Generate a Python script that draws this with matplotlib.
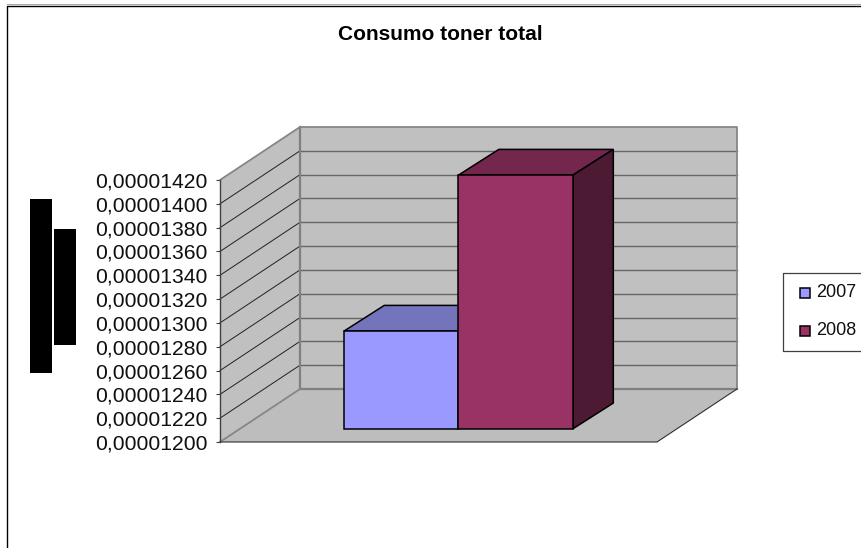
#!/usr/bin/python
import matplotlib
matplotlib.use('Agg')
import matplotlib.pyplot as plt
from matplotlib.transforms import Affine2D

plt.rcParams['font.family'] = ['Liberation Sans', 'DejaVu Sans']

title = "Consumo toner total"
series = ["2007", "2008"]
values = [0.00001282, 0.00001413]
y_ticks = [0.00001200, 0.00001220, 0.00001240, 0.00001260, 0.00001280, 0.00001300,
           0.00001320, 0.00001340, 0.00001360, 0.00001380, 0.00001400, 0.00001420]
y_labels = ["0,00001200", "0,00001220", "0,00001240", "0,00001260", "0,00001280", "0,00001300",
            "0,00001320", "0,00001340", "0,00001360", "0,00001380", "0,00001400", "0,00001420"]
front_col = ["#9999FF", "#993366"]
top_col = ["#7474BD", "#73274C"]
side_col = ["#4D4D80", "#4D1A33"]

W = 862.0
H = 548.0
DX = 80.0
DY = 53.0

#==================================
def DrawFig():
  fig = plt.figure(figsize=(W / 100, H / 100), dpi=100)

  # front plane of the fake 3d box
  ax = fig.add_axes([220 / W, 1 - 442 / H, 437 / W, 262 / H])
  ax.set_xlim(0, 1)
  ax.set_ylim(y_ticks[0], y_ticks[-1])
  ax.patch.set_visible(False)
  for s in ['top', 'right', 'bottom']:
    ax.spines[s].set_visible(False)
  ax.spines['left'].set_color('#404040')
  ax.spines['left'].set_linewidth(1.0)
  ax.set_xticks([])
  ax.set_yticks(y_ticks)
  ax.set_yticklabels(y_labels, fontsize=15.2, color='#101010')
  ax.tick_params(axis='y', length=3, width=0.8, pad=5.7, color='#404040')

  def at(f):
    return ax.transData + Affine2D().translate(DX * f, DY * f)

  y0 = y_ticks[0]
  y1 = y_ticks[-1]
  x_off = DX / 437.0
  y_off = DY / 262.0 * (y1 - y0)

  # walls and floor
  ax.fill([0, 1, 1, 0], [y0, y0, y1, y1], transform=at(1), color='#C0C0C0', lw=0, clip_on=False, zorder=1)
  ax.fill([0, x_off, x_off, 0], [y0, y0 + y_off, y1 + y_off, y1], color='#C0C0C0', lw=0, clip_on=False, zorder=1)
  ax.fill([0, 1, 1 + x_off, x_off], [y0, y0, y0 + y_off, y0 + y_off], color='#BDBDBD', lw=0, clip_on=False, zorder=1)

  # grid on back wall and side wall
  for t in y_ticks[1:-1]:
    ax.plot([0, 1], [t, t], transform=at(1), color='#666666', lw=1.0, clip_on=False, zorder=2)
    ax.plot([0, x_off], [t, t + y_off], color='#202020', lw=0.7, clip_on=False, zorder=2)

  # wall edges
  ax.plot([0, 1, 1], [y1, y1, y0], transform=at(1), color='#868686', lw=1.3, clip_on=False, zorder=2)
  ax.plot([0, 0, 1], [y1, y0, y0], transform=at(1), color='#808080', lw=1.6, clip_on=False, zorder=2)
  ax.plot([0, x_off], [y1, y1 + y_off], color='#868686', lw=1.3, clip_on=False, zorder=2)
  ax.plot([0, x_off], [y0, y0 + y_off], color='#868686', lw=1.3, clip_on=False, zorder=2)
  ax.plot([0, 1, 1 + x_off], [y0, y0, y0 + y_off], color='#303030', lw=0.8, clip_on=False, zorder=2)

  # bars, grouped round the one category at x=0.5
  bw = 114.5 / 437.0
  bx = 40.3 / 437.0
  by = 25.7 / 262.0 * (y1 - y0)
  front = at(0.25)
  for i in range(len(values)):
    v = values[i]
    l = 0.5 + (i - 1) * bw
    r = l + bw
    z = 3 + i
    ax.fill([l, r, r + bx, l + bx], [v, v, v + by, v + by], transform=front,
            facecolor=top_col[i], edgecolor='black', lw=1.1, clip_on=False, zorder=z)
    ax.fill([r, r + bx, r + bx, r], [y0, y0 + by, v + by, v], transform=front,
            facecolor=side_col[i], edgecolor='black', lw=1.1, clip_on=False, zorder=z)
    ax.fill([l, r, r, l], [y0, y0, v, v], transform=front,
            facecolor=front_col[i], edgecolor='black', lw=1.1, clip_on=False, zorder=z)

  # overlay in picture pixels: frame, title, legend, blacked out axis title
  ov = fig.add_axes([0, 0, 1, 1], zorder=10)
  ov.set_xlim(0, W)
  ov.set_ylim(H, 0)
  ov.axis('off')
  ov.plot([7, W], [4.2, 4.2], color='#A8A8A8', lw=0.8)
  ov.plot([W, 7, 7], [5.5, 5.5, H], color='black', lw=1.0)
  ov.text(440.5, 34.5, title, fontsize=15, fontweight='bold', ha='center', va='center', color='black')
  ov.fill([30, 52, 52, 30], [199, 199, 373, 373], color='black', lw=0)
  ov.fill([54, 76, 76, 54], [229, 229, 345, 345], color='black', lw=0)
  ov.plot([W, 783, 783, W], [273, 273, 351, 351], color='#404040', lw=0.9)
  sw_y = [292.5, 330.5]
  for i in range(len(series)):
    y = sw_y[i]
    ov.fill([800.5, 810.5, 810.5, 800.5], [y - 5, y - 5, y + 5, y + 5], facecolor=front_col[i], edgecolor='black', lw=1.1)
    ov.text(816.5, y, series[i], fontsize=13, ha='left', va='center', color='#101010')

  plt.savefig('out.png', dpi=100)
  return

#==================================
def main():
  DrawFig()
  return

# -------------------------------
# standard boilerplate
if __name__ == '__main__':
  main()
